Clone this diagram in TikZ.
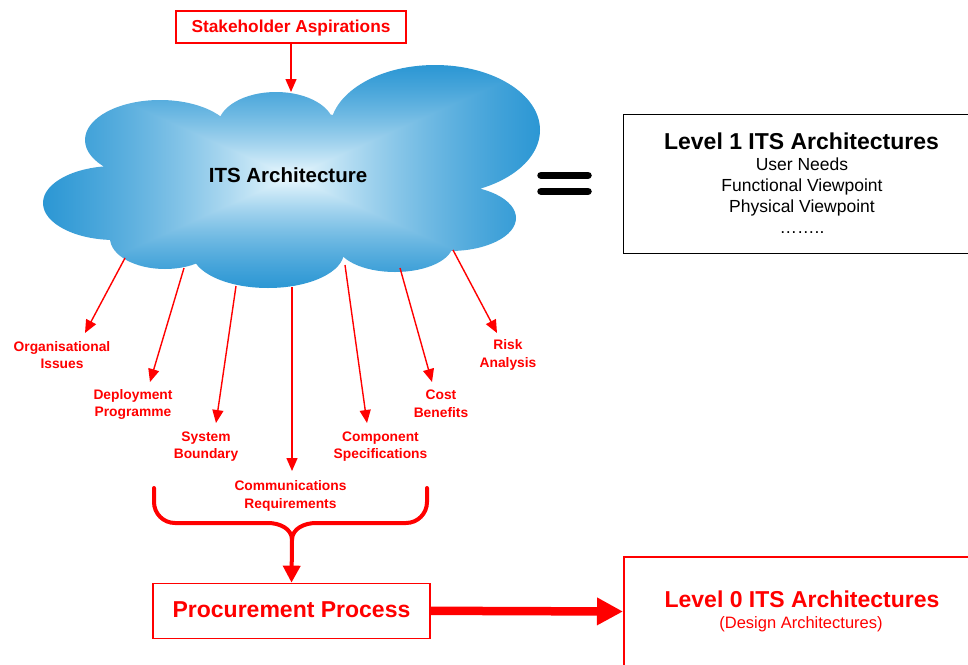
\documentclass[tikz,border=0pt]{standalone}
\usepackage{fontspec}
\setmainfont{Liberation Sans}
\usetikzlibrary{arrows.meta}
\pgfdeclarefunctionalshading{cloudrect}{\pgfpoint{-50bp}{-50bp}}{\pgfpoint{50bp}{50bp}}{}{
  abs exch abs 2 copy lt {exch} if pop 25 div dup 1 gt {pop 1} if
  dup 0.4 mul 1.4 exch sub mul
  dup 192 mul 236 exch sub 255 div
  exch dup 98 mul 249 exch sub 255 div
  exch 42 mul 254 exch sub 255 div
}
\begin{document}
\begin{tikzpicture}[x=1pt,y=-1pt,
  lbl/.style={font=\bfseries\fontsize{13.8}{17.5}\selectfont, text=red, align=center, inner sep=0pt},
  thinarrow/.style={draw=red, line width=1.4pt, -{Triangle[length=13pt,width=11pt]}},
  bracestyle/.style={draw=red, line width=4pt, line cap=round, line join=round},
  txt/.style={inner sep=0pt, anchor=base}]
\useasboundingbox (0,0) rectangle (968,664);
\fill[white] (0,0) rectangle (968,664);

% cloud
\shade[shading=cloudrect]
  (160,140) ellipse [x radius=75pt, y radius=40pt]
  (115,203) ellipse [x radius=72pt, y radius=37pt]
  (276,126) ellipse [x radius=58pt, y radius=34pt]
  (435,130) ellipse [x radius=105pt, y radius=65pt]
  (450,218) ellipse [x radius=66pt, y radius=33pt]
  (395,244) ellipse [x radius=58pt, y radius=28pt]
  (268,252) ellipse [x radius=76pt, y radius=36pt]
  (165,238) ellipse [x radius=55pt, y radius=31pt]
  (290,185) ellipse [x radius=190pt, y radius=72pt];
\node[txt, font=\bfseries\fontsize{20.5}{24}\selectfont] (its) at (288,182) {ITS Architecture};

% stakeholder
\node[draw=red, line width=2.5pt, minimum width=230pt, minimum height=32pt, inner sep=0pt] (sa) at (291,27) {};
\node[txt, font=\bfseries\fontsize{17.3}{20}\selectfont, text=red] (satext) at (291,32.5) {Stakeholder Aspirations};
\coordinate (ctop) at (291,92);
\draw[thinarrow] (sa) -- (ctop);

% equals sign
\draw[line width=7.5pt, line cap=round] (541,175.3) -- (588,175.3);
\draw[line width=7.5pt, line cap=round] (541,191.3) -- (588,191.3);

% Level 1 box
\node[draw=black, line width=1.2pt, minimum width=354pt, minimum height=139pt, anchor=north west, inner sep=0pt] (lvl1) at (623,113.5) {};
\node[txt, font=\bfseries\fontsize{23}{28}\selectfont] (l1a) at (801.5,149) {Level 1 ITS Architectures};
\node[txt, font=\fontsize{17.5}{21}\selectfont] (l1b) at (802,170.5) {User Needs};
\node[txt, font=\fontsize{17.5}{21}\selectfont] (l1c) at (802,191.5) {Functional Viewpoint};
\node[txt, font=\fontsize{17.5}{21}\selectfont] (l1d) at (802,212.5) {Physical Viewpoint};
\node[txt, font=\fontsize{17.5}{21}\selectfont] (l1e) at (802,233.5) {……..};

% labels
\node[lbl] (o1) at (62,355) {Organisational\\Issues};
\node[lbl] (o2) at (133,404.5) {Deployment\\Programme};
\node[lbl] (o3) at (206,446.5) {System\\Boundary};
\node[lbl] (o4) at (290.5,496) {Communications\\Requirements};
\node[lbl] (o5) at (380.5,446.5) {Component\\Specifications};
\node[lbl] (o6) at (441,403.5) {Cost\\Benefits};
\node[lbl] (o7) at (508,355) {Risk\\Analysis};

\coordinate (c1) at (125,258); \coordinate (t1) at (85,333);
\coordinate (c2) at (184,268); \coordinate (t2) at (150,382);
\coordinate (c3) at (236,286); \coordinate (t3) at (216,423);
\coordinate (c4) at (292,287); \coordinate (t4) at (292,471);
\coordinate (c5) at (345,265); \coordinate (t5) at (367,423);
\coordinate (c6) at (400,268); \coordinate (t6) at (432,382);
\coordinate (c7) at (453,250); \coordinate (t7) at (497,333);
\foreach \i in {1,...,7} { \draw[thinarrow] (c\i) -- (t\i); }

% procurement
\node[draw=red, line width=1.3pt, minimum width=277pt, minimum height=55pt, inner sep=0pt] (proc) at (291.5,610.8) {};
\node[txt, font=\bfseries\fontsize{23}{28}\selectfont, text=red] (proctext) at (291.5,617.5) {Procurement Process};

% brace
\coordinate (cusp) at (292,540);
\draw[bracestyle] (154,488) -- (154,502) to[out=-90,in=180] (175,523) -- (268,523) to[out=0,in=90] (cusp);
\draw[bracestyle] (427,488) -- (427,502) to[out=-90,in=0] (406,523) -- (316,523) to[out=180,in=90] (cusp);
\draw[draw=red, line width=4pt, -{Triangle[length=17pt,width=17pt]}] (cusp) -- (proc.north);

% Level 0 box
\node[draw=red, line width=1.5pt, minimum width=354pt, minimum height=109.5pt, anchor=north west, inner sep=0pt] (lvl0) at (623,556) {};
\node[txt, font=\bfseries\fontsize{23}{28}\selectfont, text=red] (l0a) at (802,607) {Level 0 ITS Architectures};
\node[txt, font=\fontsize{16.5}{20}\selectfont, text=red] (l0b) at (801,628.5) {(Design Architectures)};

\draw[draw=red, line width=8.5pt, -{Triangle[length=26pt,width=26pt]}] (proc.east) -- (lvl0.west);
\end{tikzpicture}
\end{document}
